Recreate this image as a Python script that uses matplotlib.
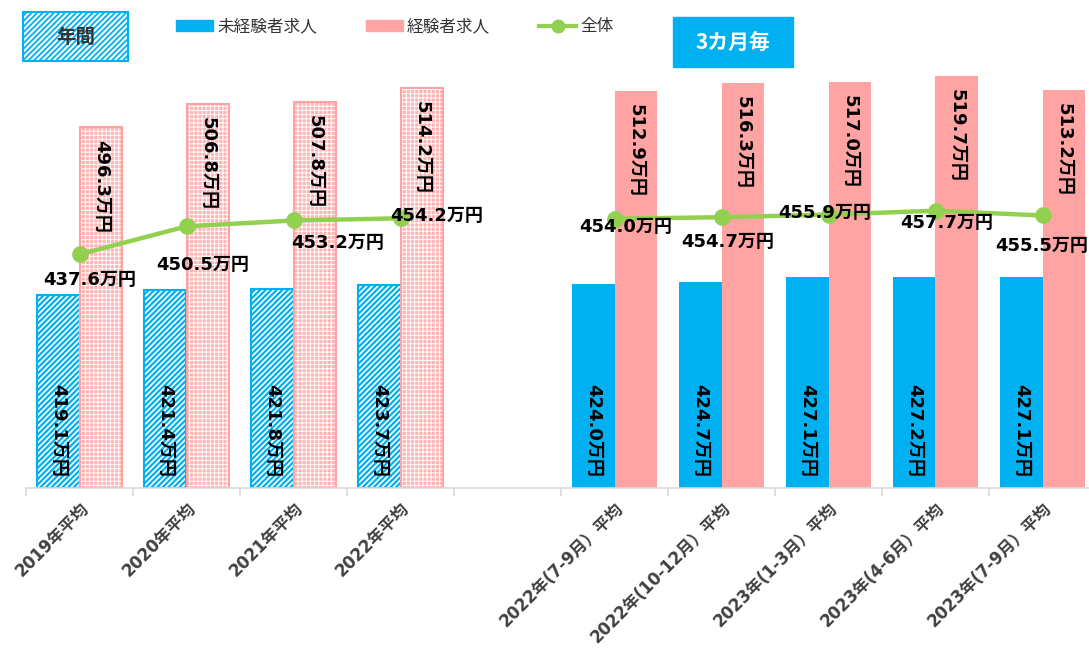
import numpy as np
import matplotlib
matplotlib.use("Agg")
import matplotlib.pyplot as plt
from matplotlib.patches import Patch, Rectangle
from matplotlib.lines import Line2D

plt.rcParams['font.family'] = ['DejaVu Sans', 'Noto Sans CJK JP']
plt.rcParams['hatch.linewidth'] = 1.3

# --- data ---
categories = ['2019年平均', '2020年平均', '2021年平均', '2022年平均', '',
              '2022年(7-9月）平均', '2022年(10-12月）平均', '2023年(1-3月）平均',
              '2023年(4-6月）平均', '2023年(7-9月）平均']
inexp = [419.1, 421.4, 421.8, 423.7, np.nan, 424.0, 424.7, 427.1, 427.2, 427.1]
exp = [496.3, 506.8, 507.8, 514.2, np.nan, 512.9, 516.3, 517.0, 519.7, 513.2]
total = [437.6, 450.5, 453.2, 454.2, np.nan, 454.0, 454.7, 455.9, 457.7, 455.5]
annual = [True, True, True, True, False, False, False, False, False, False]

# label offsets for the 全体 line (pixels)
line_offsets = [(10, -26), (16, -39), (44, -23), (36, 2), None,
                (11, -8), (6, -25), (-4, 2), (11, -12), (-1, -31)]

BLUE = '#00B0F0'
PINK = '#FFA3A3'
GREEN = '#92D050'
W = 0.4


def hatch_lw(bars, lw):
    for b in bars:
        if hasattr(b, 'set_hatch_linewidth'):
            b.set_hatch_linewidth(lw)


fig = plt.figure(figsize=(10.89, 6.54), dpi=100)
ax = fig.add_axes([26 / 1089, 166 / 654, 1070 / 1089, 423 / 654])
ax.set_xlim(-0.5, 9.5)
ax.set_ylim(330, 524.8)

x = np.arange(len(categories))
inexp = np.array(inexp)
exp = np.array(exp)
ann = np.array(annual)
qtr = ~ann & ~np.isnan(inexp)

# annual bars (hatched)
b = ax.bar(x[ann] - W / 2, inexp[ann] - 330, W, bottom=330, facecolor='white',
           edgecolor=BLUE, hatch='//////', linewidth=1.5)
hatch_lw(b, 1.6)
b = ax.bar(x[ann] + W / 2, exp[ann] - 330, W, bottom=330, facecolor='#FFB3B3',
           edgecolor='white', hatch='++++', linewidth=0)
hatch_lw(b, 0.7)
ax.bar(x[ann] + W / 2, exp[ann] - 330, W, bottom=330, fill=False,
       edgecolor=PINK, linewidth=1.5)
# quarterly bars (solid)
ax.bar(x[qtr] - W / 2, inexp[qtr] - 330, W, bottom=330, color=BLUE)
ax.bar(x[qtr] + W / 2, exp[qtr] - 330, W, bottom=330, color=PINK)

ax.plot(x, total, color=GREEN, lw=3.2, marker='o', ms=11, zorder=5)

lab_font = dict(fontsize=13, fontweight='bold', color='black')
for i in range(len(categories)):
    if np.isnan(inexp[i]):
        continue
    ax.annotate(f'{inexp[i]:.1f}万円', (x[i] - W / 2, 330), xytext=(0, 11),
                textcoords='offset pixels', rotation=-90, ha='center', va='bottom',
                zorder=6, **lab_font)
    ax.annotate(f'{exp[i]:.1f}万円', (x[i] + W / 2, exp[i]), xytext=(0, -13),
                textcoords='offset pixels', rotation=-90, ha='center', va='top',
                zorder=6, **lab_font)
    dx, dy = line_offsets[i]
    ax.annotate(f'{total[i]:.1f}万円', (x[i], total[i]), xytext=(dx, dy),
                textcoords='offset pixels', ha='center', va='center',
                zorder=7, **lab_font)

# axes styling
for s in ['top', 'right', 'left']:
    ax.spines[s].set_visible(False)
ax.spines['bottom'].set_color('#D9D9D9')
ax.spines['bottom'].set_linewidth(1.2)
ax.set_yticks([])
ax.set_xticks(x)
ax.set_xticklabels(categories, rotation=45, ha='right', rotation_mode='anchor',
                   fontsize=12, fontweight='bold', color='#404040')
ax.tick_params(axis='x', which='major', length=0, pad=8)
ax.set_xticks(np.arange(-0.5, 10, 1), minor=True)
ax.tick_params(axis='x', which='minor', length=6, color='#D9D9D9', width=1.2)

# legend
handles = [Patch(color=BLUE), Patch(color=PINK),
           Line2D([], [], color=GREEN, lw=3, marker='o', ms=9)]
fig.legend(handles, ['未経験者求人', '経験者求人', '全体'], loc='upper left',
           bbox_to_anchor=(168 / 1089, 1 - 10 / 654), ncol=3, frameon=False,
           prop={'family': ['Noto Sans CJK JP'], 'size': 12}, labelcolor='#333333',
           handlelength=2.2, handletextpad=0.25, columnspacing=2.95, borderpad=0)

# label boxes
fig.patches.append(Rectangle((23 / 1089, 1 - 61 / 654), 105 / 1089, 49 / 654,
                             transform=fig.transFigure, facecolor='white',
                             edgecolor=BLUE, hatch='//////', linewidth=1.5))
fig.text(75.5 / 1089, 1 - 37 / 654, '年間', ha='center', va='center',
         fontsize=14, fontweight='bold', color='#333333',
         family=['Noto Sans CJK JP'])
fig.patches.append(Rectangle((673 / 1089, 1 - 67 / 654), 120 / 1089, 50 / 654,
                             transform=fig.transFigure, facecolor=BLUE,
                             edgecolor=BLUE))
fig.text(733 / 1089, 1 - 43 / 654, '3カ月毎', ha='center', va='center',
         fontsize=15, fontweight='bold', color='white',
         family=['Noto Sans CJK JP'])

fig.savefig('out.png', dpi=100)
